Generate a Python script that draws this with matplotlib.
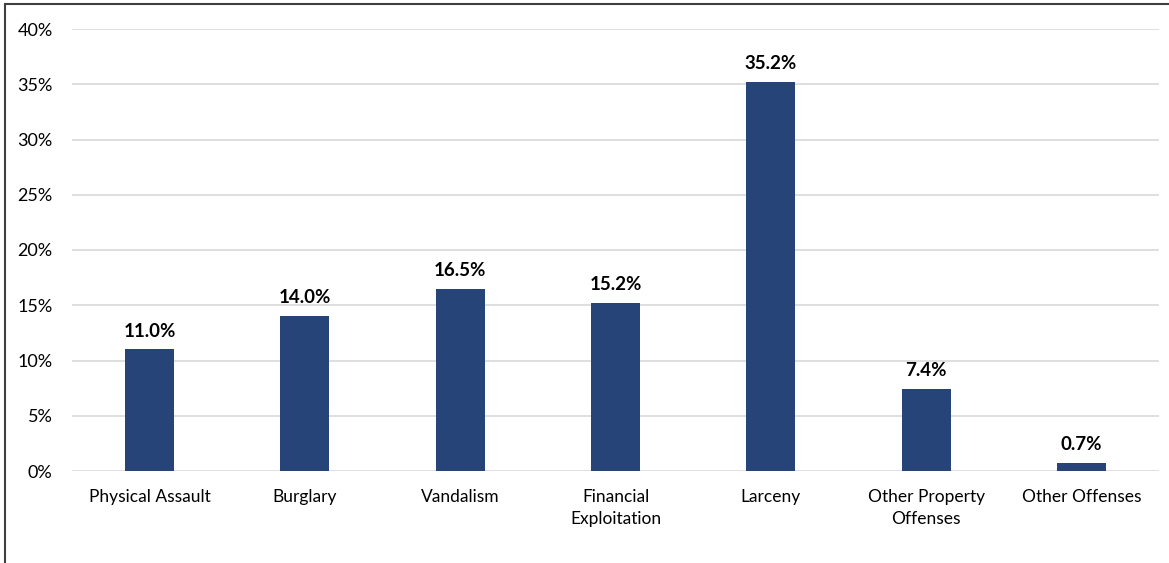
import matplotlib.pyplot as plt
import matplotlib.patches as patches
from matplotlib.ticker import FuncFormatter

# data
categories = ["Physical Assault", "Burglary", "Vandalism", "Financial\nExploitation",
              "Larceny", "Other Property\nOffenses", "Other Offenses"]
values = [11.0, 14.0, 16.5, 15.2, 35.2, 7.4, 0.7]

plt.rcParams['font.family'] = ['Lato', 'DejaVu Sans']

fig = plt.figure(figsize=(11.69, 5.63), dpi=100)
ax = fig.add_axes([72/1169, 1 - 471/563, (1159 - 72)/1169, (471 - 29)/563])

x = range(len(categories))
ax.bar(x, values, width=0.315, color="#264478", zorder=3)

for i, v in enumerate(values):
    ax.text(i, v + 0.9, "%.1f%%" % v, ha="center", va="bottom",
            fontsize=13.5, fontweight="bold", color="black")

ax.set_xlim(-0.5, len(categories) - 0.5)
ax.set_ylim(0, 40)
ax.set_yticks(range(0, 41, 5))
ax.yaxis.set_major_formatter(FuncFormatter(lambda v, p: "%d%%" % v))
ax.set_xticks(list(x))
ax.set_xticklabels(categories, fontsize=12.5, linespacing=1.45)
ax.tick_params(axis="y", labelsize=13, length=0, pad=14)
ax.tick_params(axis="x", length=0, pad=13)

ax.grid(axis="y", color="#d9d9d9", linewidth=1.2, zorder=0)
for s in ax.spines.values():
    s.set_visible(False)

# outer border
fig.patches.append(patches.Rectangle((5/1169, -0.1), 1.2, 1 - 4/563 + 0.1,
                                     transform=fig.transFigure, fill=False,
                                     edgecolor="#404040", linewidth=1.5))

fig.savefig("out.png", dpi=100)
